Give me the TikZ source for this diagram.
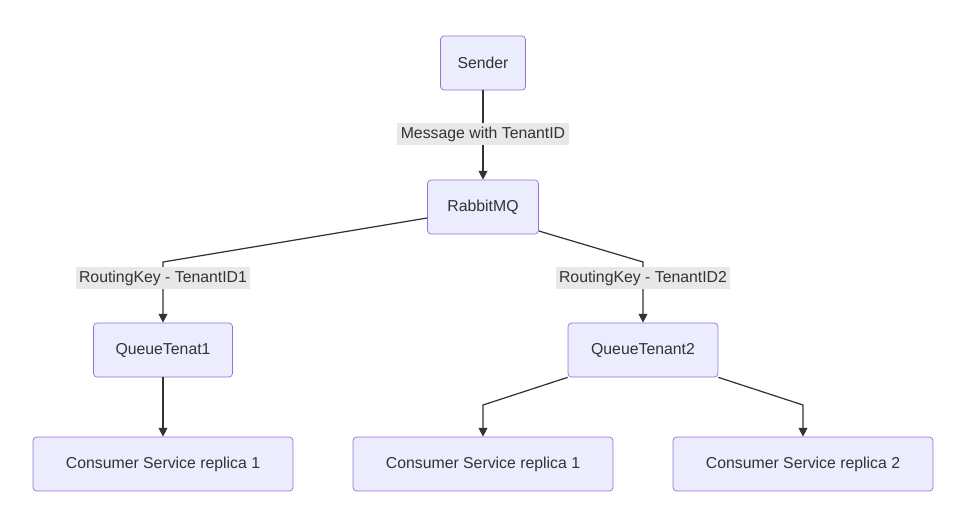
\documentclass[tikz,border=0pt]{standalone}
\usepackage{fontspec}
\setmainfont{Liberation Sans}
\usetikzlibrary{arrows.meta}
\definecolor{boxfill}{HTML}{ECECFF}
\definecolor{boxline}{HTML}{9370DB}
\definecolor{edge}{HTML}{333333}
\definecolor{lblbg}{HTML}{E8E8E8}

\begin{document}
\begin{tikzpicture}[x=0.02cm,y=-0.02cm,
    box/.style={draw=boxline,fill=boxfill,rounded corners=2pt,minimum height=1.08cm,
      text=edge,font=\fontsize{9}{11}\selectfont,inner xsep=0pt},
    lbl/.style={fill=lblbg,text=edge,font=\fontsize{9}{11}\selectfont,inner sep=2pt},
    link/.style={draw=edge,line width=0.7pt,-{Triangle[length=5pt,width=5pt]}}]
    \useasboundingbox (0,0) rectangle (974,529);
    \node[box,minimum width=1.70cm] (sender) at (483,63) {Sender};
    \node[box,minimum width=2.22cm] (rabbit) at (483,207) {RabbitMQ};
    \node[box,minimum width=2.78cm] (queue1) at (163,350) {QueueTenat1};
    \node[box,minimum width=3.00cm] (queue2) at (643,350) {QueueTenant2};
    \node[box,minimum width=5.20cm] (cons1) at (163,464) {Consumer Service replica 1};
    \node[box,minimum width=5.20cm] (cons2) at (483,464) {Consumer Service replica 1};
    \node[box,minimum width=5.20cm] (cons3) at (803,464) {Consumer Service replica 2};
    % bends
    \coordinate (b1) at (163,262);
    \coordinate (b2) at (643,262);
    \coordinate (b3) at (483,405);
    \coordinate (b4) at (803,405);
    \draw[link] (sender) -- (rabbit);
    \draw[link] (rabbit.south west |- 0,218) -- (b1) -- (queue1);
    \draw[link] (rabbit.south east |- 0,231) -- (b2) -- (queue2);
    \draw[link] (queue1) -- (cons1);
    \draw[link] (queue2.south west) -- (b3) -- (cons2);
    \draw[link] (queue2.south east) -- (b4) -- (cons3);
    % edge labels
    \node[lbl] (l1) at (483,134) {Message with TenantID};
    \node[lbl] (l2) at (163,278) {RoutingKey - TenantID1};
    \node[lbl] (l3) at (643,278) {RoutingKey - TenantID2};
\end{tikzpicture}
\end{document}
